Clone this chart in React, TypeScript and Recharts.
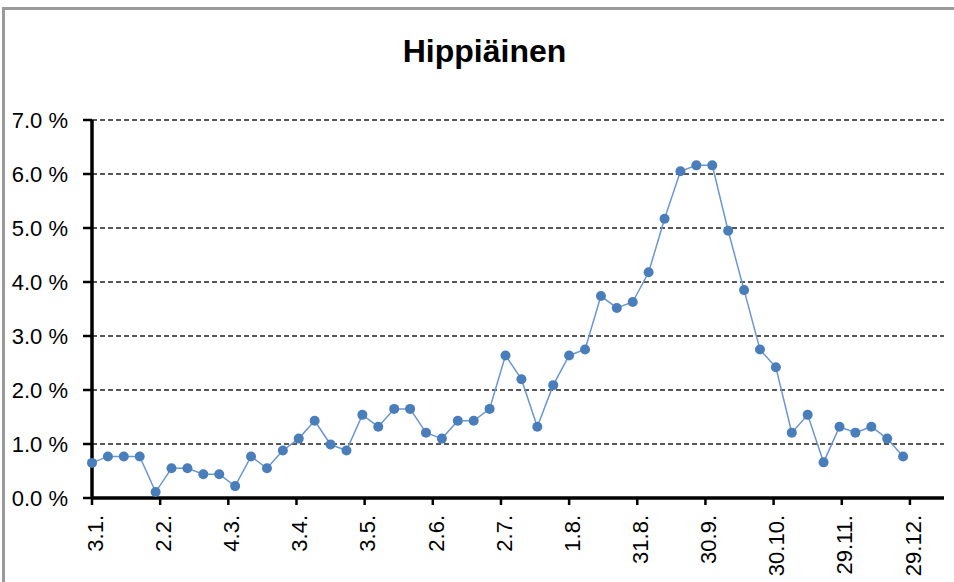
import { CartesianGrid, Line, LineChart, XAxis, YAxis } from "recharts";

// weekly samples, x = days since 3.1.
const DAYS = [
  0, 7, 14, 21, 28, 35, 42, 49, 56, 63, 70, 77, 84, 91, 98, 105, 112, 119, 126,
  133, 140, 147, 154, 161, 168, 175, 182, 189, 196, 203, 210, 217, 224, 231,
  238, 245, 252, 259, 266, 273, 280, 287, 294, 301, 308, 315, 322, 329, 336,
  343, 350, 357,
];

const SHARE = [
  0.65, 0.77, 0.77, 0.77, 0.11, 0.55, 0.55, 0.44, 0.44, 0.22, 0.77, 0.55, 0.88,
  1.1, 1.43, 0.99, 0.88, 1.54, 1.32, 1.65, 1.65, 1.21, 1.1, 1.43, 1.43, 1.65,
  2.64, 2.2, 1.32, 2.09, 2.64, 2.75, 3.74, 3.52, 3.63, 4.18, 5.17, 6.05, 6.16,
  6.16, 4.95, 3.85, 2.75, 2.42, 1.21, 1.54, 0.66, 1.32, 1.21, 1.32, 1.1, 0.77,
];

const TICK_DAYS = [0, 30, 60, 90, 120, 150, 180, 210, 240, 270, 300, 330, 360];
const TICK_LABELS = [
  "3.1.",
  "2.2.",
  "4.3.",
  "3.4.",
  "3.5.",
  "2.6.",
  "2.7.",
  "1.8.",
  "31.8.",
  "30.9.",
  "30.10.",
  "29.11.",
  "29.12.",
];
const Y_TICKS = [0, 1, 2, 3, 4, 5, 6, 7];

const FONT = "'Liberation Sans', Arial, sans-serif";

const data = DAYS.map((day, i) => ({ day, share: SHARE[i] }));

function DateTick(props: any) {
  const { x, y, payload } = props;
  const idx = TICK_DAYS.indexOf(payload.value);
  return (
    <g transform={`translate(${x + 3},${y + 8})`}>
      <text
        transform="rotate(-90)"
        textAnchor="end"
        dy="0.35em"
        fontSize={22}
        fontFamily={FONT}
        fill="#000"
      >
        {TICK_LABELS[idx] ?? ""}
      </text>
    </g>
  );
}

export default function App() {
  return (
    <div
      style={{
        position: "fixed",
        left: 0,
        top: 0,
        width: 954,
        height: 582,
        overflow: "hidden",
        background: "#fff",
      }}
    >
      <div
        style={{
          position: "absolute",
          left: 2,
          top: 7,
          width: 980,
          height: 600,
          border: "3px solid #9a9a9a",
        }}
      />
      <div
        style={{
          position: "absolute",
          left: 0,
          width: 969,
          top: 35,
          textAlign: "center",
          fontFamily: FONT,
          fontWeight: "bold",
          fontSize: 32,
          lineHeight: "32px",
          color: "#000",
        }}
      >
        Hippiäinen
      </div>
      <div style={{ position: "absolute", left: 0, top: 0 }}>
        <LineChart
          width={954}
          height={582}
          data={data}
          margin={{ top: 120, right: 10, bottom: 0, left: 0 }}
        >
          <CartesianGrid
            vertical={false}
            stroke="#222"
            strokeDasharray="5 3"
            strokeWidth={1.3}
          />
          <XAxis
            dataKey="day"
            type="number"
            domain={[0, 375]}
            ticks={TICK_DAYS}
            interval={0}
            height={84}
            tick={<DateTick />}
            tickSize={7}
            tickMargin={2}
            axisLine={{ stroke: "#000", strokeWidth: 3.5 }}
            tickLine={{ stroke: "#000", strokeWidth: 2.5 }}
          />
          <YAxis
            domain={[0, 7]}
            ticks={Y_TICKS}
            interval={0}
            width={92}
            tickSize={9}
            tickMargin={15}
            tickFormatter={(v: number) => `${v.toFixed(1)} %`}
            tick={{ fontSize: 22, fontFamily: FONT, fill: "#000" }}
            axisLine={{ stroke: "#000", strokeWidth: 3.5 }}
            tickLine={{ stroke: "#000", strokeWidth: 2.5 }}
          />
          <Line
            type="linear"
            dataKey="share"
            stroke="#6B97D0"
            strokeWidth={1.5}
            dot={{ r: 5, fill: "#4A7EBB", stroke: "#4A7EBB", strokeWidth: 0 }}
            activeDot={false}
            isAnimationActive={false}
          />
        </LineChart>
      </div>
    </div>
  );
}
